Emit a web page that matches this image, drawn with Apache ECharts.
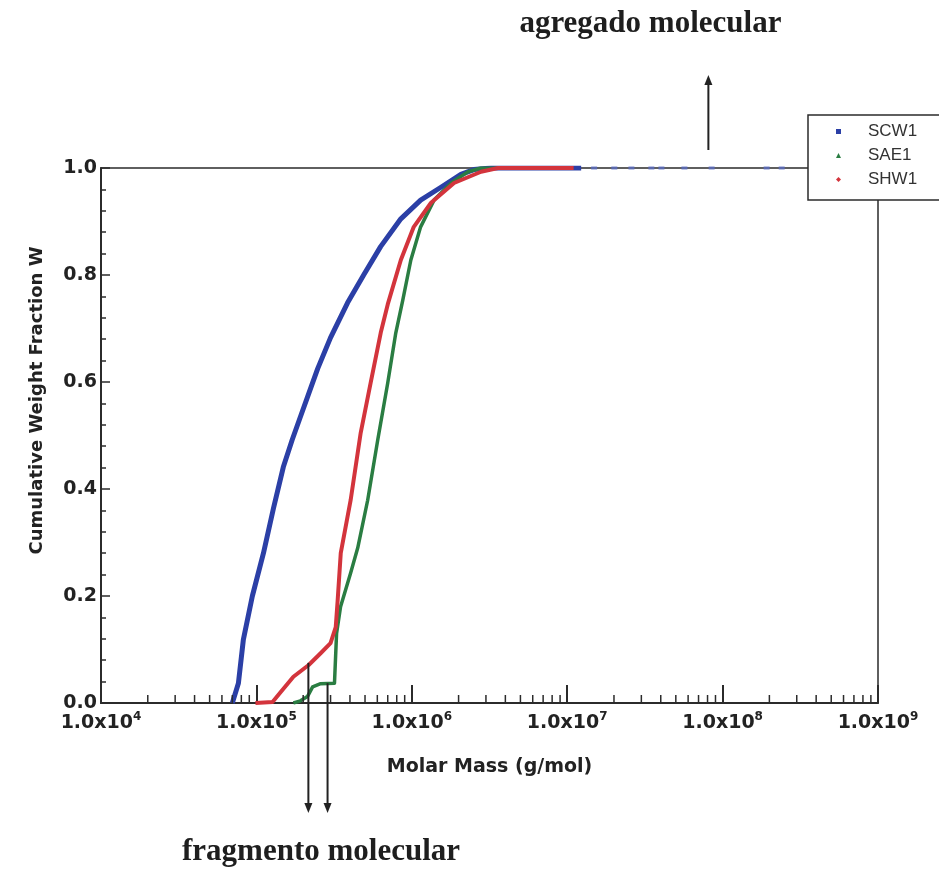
<!DOCTYPE html>
<html>
<head>
<meta charset="utf-8">
<script src="https://cdn.jsdelivr.net/npm/echarts@6/dist/echarts.min.js"></script>
<style>
  html, body { margin: 0; padding: 0; background: #fff; }
  #chart { width: 939px; height: 873px; }
</style>
</head>
<body>
<div id="chart"></div>
<script>
// curvas acumuladas (massa molar g/mol, fração W)
var scw1Mass = [7.0e4, 7.66e4, 8.24e4, 9.42e4, 1.11e5, 1.29e5, 1.49e5, 1.70e5, 1.92e5, 2.2e5, 2.48e5, 3.0e5, 3.86e5, 4.9e5, 6.3e5, 8.5e5, 1.14e6, 1.54e6, 2.07e6, 2.51e6, 3.24e6, 1.23e7]
var scw1W = [0, 0.037, 0.118, 0.2, 0.28, 0.365, 0.441, 0.492, 0.535, 0.583, 0.625, 0.683, 0.748, 0.80, 0.853, 0.905, 0.94, 0.964, 0.988, 0.997, 1.0, 1.0]
// pontos soltos do SCW1 em W = 1
var scw1DotMass = [1.49e7, 2.01e7, 2.59e7, 3.48e7, 4.04e7, 5.68e7, 8.5e7, 1.92e8, 2.4e8]
var scw1DotW = [1, 1, 1, 1, 1, 1, 1, 1, 1]

var sae1Mass = [1.73e5, 1.92e5, 2.13e5, 2.30e5, 2.59e5, 3.18e5, 3.28e5, 3.48e5, 4.04e5, 4.49e5, 5.2e5, 6.04e5, 7.0e5, 7.89e5, 8.75e5, 9.86e5, 1.14e6, 1.39e6, 1.79e6, 2.30e6, 2.79e6, 1.0e7]
var sae1W = [0, 0.004, 0.012, 0.03, 0.036, 0.037, 0.13, 0.18, 0.243, 0.29, 0.379, 0.492, 0.598, 0.692, 0.753, 0.828, 0.89, 0.94, 0.972, 0.993, 1.0, 1.0]

var shw1Mass = [9.86e4, 1.27e5, 1.43e5, 1.73e5, 2.17e5, 2.59e5, 3.0e5, 3.24e5, 3.33e5, 3.49e5, 4.04e5, 4.69e5, 5.43e5, 6.31e5, 7.0e5, 8.5e5, 1.03e6, 1.33e6, 1.87e6, 2.79e6, 3.59e6, 1.1e7]
var shw1W = [0, 0.002, 0.02, 0.049, 0.071, 0.093, 0.112, 0.142, 0.19, 0.28, 0.379, 0.505, 0.598, 0.692, 0.745, 0.828, 0.89, 0.935, 0.972, 0.993, 1.0, 1.0]

var seriesNames = ['SCW1', 'SAE1', 'SHW1']
var xMin = 1e4
var xMax = 1e9
var yTicks = ['0.0', '0.2', '0.4', '0.6', '0.8', '1.0']

// marcas menores do eixo log (2..9 x 10^n)
var minorTickVals = []
for (var e = 4; e < 9; e++) {
  for (var k = 2; k <= 9; k++) minorTickVals.push([k * Math.pow(10, e), 0])
}

// posições apontadas pelas setas
var agregadoPoint = [8.1e7, 1.0]
var fragmentoPoints = [[2.16e5, 0.075], [2.87e5, 0.037]]

function pairs(xs, ys) {
  return xs.map(function (x, i) { return [x, ys[i]] })
}

var axisColor = '#2b2b2b'
var tickFont = 'DejaVu Sans'

var chart = echarts.init(document.getElementById('chart'))
var option = {
  backgroundColor: '#fff',
  animation: false,
  grid: {
    left: 101,
    right: 61,
    top: 168,
    bottom: 170,
    show: true,
    borderColor: axisColor,
    borderWidth: 1.5,
    backgroundColor: 'transparent'
  },
  legend: {
    data: [
      { name: 'SCW1', icon: 'rect' },
      { name: 'SAE1', icon: 'triangle' },
      { name: 'SHW1', icon: 'diamond' }
    ],
    orient: 'vertical',
    left: 808,
    top: 115,
    itemWidth: 5,
    itemHeight: 5,
    itemGap: 7,
    padding: [8, 80, 12, 28],
    borderColor: axisColor,
    borderWidth: 1.5,
    backgroundColor: '#fff',
    textStyle: {
      fontFamily: 'Liberation Sans',
      fontSize: 17,
      color: '#333',
      padding: [0, 0, 0, 22]
    }
  },
  xAxis: {
    type: 'log',
    logBase: 10,
    min: xMin,
    max: xMax,
    name: 'Molar Mass (g/mol)',
    nameLocation: 'middle',
    nameGap: 55,
    nameTextStyle: { fontFamily: tickFont, fontWeight: 'bold', fontSize: 19, color: '#222' },
    axisLine: { lineStyle: { color: axisColor, width: 2 } },
    axisTick: { inside: true, length: 18, lineStyle: { color: axisColor, width: 2 } },
    splitLine: { show: false },
    axisLabel: {
      margin: 8,
      formatter: function (v) {
        var exp = Math.round(Math.log(v) / Math.LN10)
        return '{b|1.0x10}{s|' + exp + '}'
      },
      rich: {
        b: { fontFamily: tickFont, fontWeight: 'bold', fontSize: 19, color: '#222', lineHeight: 24 },
        s: { fontFamily: tickFont, fontWeight: 'bold', fontSize: 12, color: '#222', verticalAlign: 'top', lineHeight: 14 }
      }
    }
  },
  yAxis: {
    type: 'value',
    min: 0,
    max: 1,
    interval: 0.2,
    name: 'Cumulative Weight Fraction W',
    nameLocation: 'middle',
    nameGap: 55,
    nameTextStyle: { fontFamily: tickFont, fontWeight: 'bold', fontSize: 18, color: '#222', padding: [0, 0, 0, 70] },
    axisLine: { show: true, lineStyle: { color: axisColor, width: 2 } },
    axisTick: { inside: true, length: 9, lineStyle: { color: axisColor, width: 1.5 } },
    minorTick: { show: true, splitNumber: 5, length: 5, lineStyle: { color: axisColor, width: 1.5 } },
    splitLine: { show: false },
    axisLabel: {
      margin: 4,
      fontFamily: tickFont,
      fontWeight: 'bold',
      fontSize: 19,
      color: '#222',
      formatter: function (v) { return yTicks[Math.round(v * 5)] }
    }
  },
  series: [
    {
      type: 'custom',
      name: 'minorTicks',
      silent: true,
      clip: false,
      z: 5,
      renderItem: function (params, api) {
        var p = api.coord([api.value(0), 0])
        return {
          type: 'line',
          shape: { x1: p[0], y1: p[1], x2: p[0], y2: p[1] - 8 },
          style: { stroke: axisColor, lineWidth: 1.5 }
        }
      },
      data: minorTickVals
    },
    {
      name: seriesNames[0],
      type: 'line',
      data: pairs(scw1Mass, scw1W),
      showSymbol: false,
      color: '#2b3fa6',
      lineStyle: { width: 5, color: '#2b3fa6', join: 'round' },
      z: 2
    },
    {
      name: seriesNames[0],
      type: 'scatter',
      data: pairs(scw1DotMass, scw1DotW),
      symbol: 'rect',
      symbolSize: [6, 3],
      itemStyle: { color: '#5a6cc0', opacity: 0.8 },
      z: 2
    },
    {
      name: seriesNames[1],
      type: 'line',
      data: pairs(sae1Mass, sae1W),
      showSymbol: false,
      color: '#2a7d42',
      lineStyle: { width: 3.5, color: '#2a7d42', join: 'round' },
      z: 3
    },
    {
      name: seriesNames[2],
      type: 'line',
      data: pairs(shw1Mass, shw1W),
      showSymbol: false,
      color: '#d3343c',
      lineStyle: { width: 4, color: '#d3343c', join: 'round' },
      z: 4
    }
  ]
}
chart.setOption(option)

// setas e textos de anotação, presos aos pontos de dados
function arrowHead(x, y, dir) {
  // dir = -1 aponta para cima, 1 para baixo
  return {
    type: 'polygon',
    shape: { points: [[x, y], [x - 4, y - dir * 10], [x + 4, y - dir * 10]] },
    style: { fill: '#222' },
    z: 100
  }
}
var graphics = []
var pa = chart.convertToPixel({ gridIndex: 0 }, agregadoPoint)
graphics.push({
  type: 'line',
  shape: { x1: pa[0], y1: pa[1] - 18, x2: pa[0], y2: pa[1] - 86 },
  style: { stroke: '#222', lineWidth: 2 },
  z: 100
})
graphics.push(arrowHead(pa[0], pa[1] - 93, -1))
graphics.push({
  type: 'text',
  left: pa[0] - 54 - 135,
  top: 8,
  style: {
    text: 'agregado molecular',
    font: 'bold 31px "Liberation Serif"',
    fill: '#1e1e1e'
  },
  z: 100
})
var axisBottom = chart.convertToPixel({ gridIndex: 0 }, [xMin, 0])[1]
fragmentoPoints.forEach(function (pt) {
  var p = chart.convertToPixel({ gridIndex: 0 }, pt)
  graphics.push({
    type: 'line',
    shape: { x1: p[0], y1: p[1], x2: p[0], y2: axisBottom + 102 },
    style: { stroke: '#222', lineWidth: 2 },
    z: 100
  })
  graphics.push(arrowHead(p[0], axisBottom + 110, 1))
})
graphics.push({
  type: 'text',
  left: 182,
  top: 836,
  style: {
    text: 'fragmento molecular',
    font: 'bold 31px "Liberation Serif"',
    fill: '#1e1e1e'
  },
  z: 100
})
chart.setOption({ graphic: graphics })
</script>
</body>
</html>
